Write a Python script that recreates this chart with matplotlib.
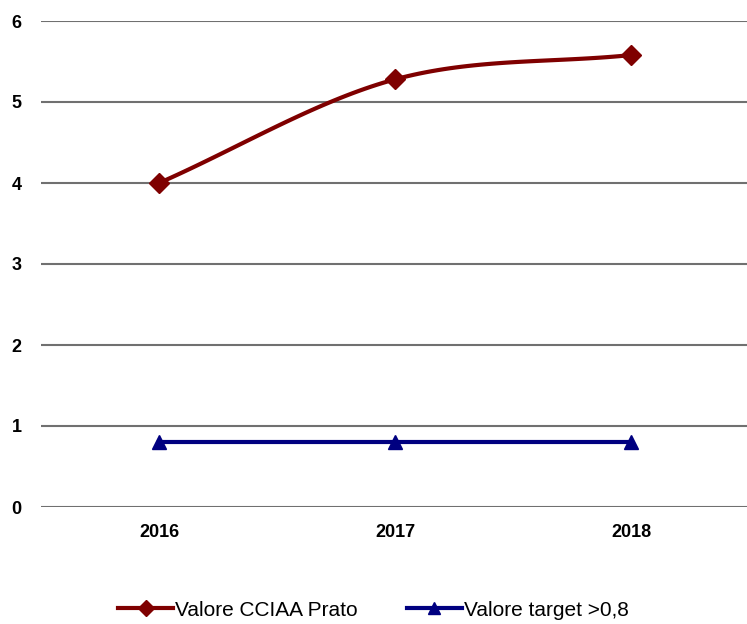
import numpy as np
import matplotlib.pyplot as plt

plt.rcParams['font.family'] = ['Liberation Sans', 'DejaVu Sans']

# data
years = ['2016', '2017', '2018']
valore_prato = [4.0, 5.28, 5.58]
valore_target = [0.8, 0.8, 0.8]


# smooth curve like the spreadsheet "smoothed line" option (Catmull-Rom)
def smooth(xs, ys, n=40):
    xs = np.asarray(xs, float)
    ys = np.asarray(ys, float)
    px = np.concatenate([[2*xs[0]-xs[1]], xs, [2*xs[-1]-xs[-2]]])
    py = np.concatenate([[2*ys[0]-ys[1]], ys, [2*ys[-1]-ys[-2]]])
    outx, outy = [], []
    for i in range(1, len(px)-2):
        t = np.linspace(0, 1, n)
        for p, out in ((px, outx), (py, outy)):
            p0, p1, p2, p3 = p[i-1], p[i], p[i+1], p[i+2]
            out.extend(0.5*((2*p1) + (-p0+p2)*t + (2*p0-5*p1+4*p2-p3)*t**2
                            + (-p0+3*p1-3*p2+p3)*t**3))
    return np.array(outx), np.array(outy)


x = np.arange(len(years))
fig = plt.figure(figsize=(7.47, 6.24), dpi=100)
ax = fig.add_axes([41/747, 117/624, 706/747, 486/624])

sx, sy = smooth(x, valore_prato)
ax.plot(sx, sy, color='#7f0000', lw=3, zorder=3)
ax.plot(x, valore_prato, ls='none', marker='D', ms=10, color='#7f0000', zorder=4)
ax.plot(x, valore_target, color='#000080', lw=3, marker='^', ms=10, zorder=3)

ax.set_xlim(-0.5, 2.49)
ax.set_ylim(0, 6)
ax.set_yticks(range(0, 7))
ax.set_xticks(x)
ax.set_xticklabels(years)
ax.yaxis.grid(True, color='#707070', lw=1.5)
ax.set_axisbelow(True)
for s in ax.spines.values():
    s.set_visible(False)
ax.tick_params(length=0, labelsize=13, colors='black')
ax.tick_params(axis='y', pad=14)
ax.tick_params(axis='x', pad=12)
for lab in ax.get_xticklabels() + ax.get_yticklabels():
    lab.set_fontweight('bold')

h1, = ax.plot([], [], color='#7f0000', lw=3, marker='D', ms=8)
h2, = ax.plot([], [], color='#000080', lw=3, marker='^', ms=8)
fig.legend([h1, h2], ['Valore CCIAA Prato', 'Valore target >0,8'],
           loc='center', bbox_to_anchor=(0.5, 14/624), ncol=2, frameon=False,
           fontsize=15, handlelength=2.6, handletextpad=0.1, columnspacing=2.4)

fig.savefig('out.png', dpi=100)
